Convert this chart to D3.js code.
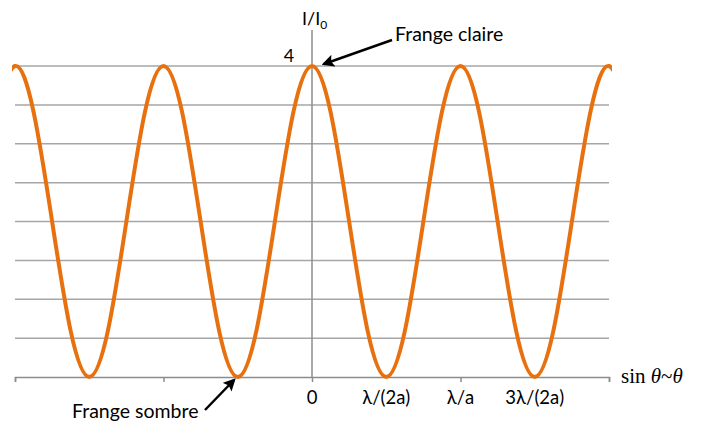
<!DOCTYPE html>
<html>
<head>
<meta charset="utf-8">
<script src="https://cdn.jsdelivr.net/npm/d3@7"></script>
<style>
  body { margin: 0; background: #fff; }
  text { font-family: Lato, "Open Sans", sans-serif; }
</style>
</head>
<body>
<div id="chart"></div>
<script>
// sin(theta) positions in units of lambda/a, sampled every 1/8
// (one extra sample past each end keeps the end peaks round; it is clipped)
const xs = [-2.125, -2, -1.875, -1.75, -1.625, -1.5, -1.375, -1.25, -1.125,
            -1, -0.875, -0.75, -0.625, -0.5, -0.375, -0.25, -0.125,
            0, 0.125, 0.25, 0.375, 0.5, 0.625, 0.75, 0.875,
            1, 1.125, 1.25, 1.375, 1.5, 1.625, 1.75, 1.875, 2, 2.125]
// I/I0
const intensity = [3.41, 4, 3.41, 2, 0.59, 0, 0.59, 2, 3.41,
                   4, 3.41, 2, 0.59, 0, 0.59, 2, 3.41,
                   4, 3.41, 2, 0.59, 0, 0.59, 2, 3.41,
                   4, 3.41, 2, 0.59, 0, 0.59, 2, 3.41, 4, 3.41]

const gridValues = [0.5, 1, 1.5, 2, 2.5, 3, 3.5, 4]
const axisTicks = [-2, -1, 0, 1, 2]
const tickLabels = [
  { x: 0, text: "0" },
  { x: 0.5, text: "λ/(2a)" },
  { x: 1, text: "λ/a" },
  { x: 1.5, text: "3λ/(2a)" }
]

const width = 701
const height = 425

const xScale = d3.scaleLinear().domain([-2, 2]).range([15, 609])
const yScale = d3.scaleLinear().domain([0, 4]).range([377, 66])

const svg = d3.select("#chart")
  .append("svg")
    .attr("width", width)
    .attr("height", height)

const defs = svg.append("defs")
defs.append("marker")
    .attr("id", "arrow")
    .attr("viewBox", "0 0 10 10")
    .attr("refX", 8)
    .attr("refY", 5)
    .attr("markerWidth", 5)
    .attr("markerHeight", 5)
    .attr("orient", "auto")
  .append("path")
    .attr("d", "M0,0 L10,5 L0,10 L2,5 Z")
    .attr("fill", "#000")

defs.append("clipPath")
    .attr("id", "plot-clip")
  .append("rect")
    .attr("x", xScale(-2) - 3)
    .attr("y", 0)
    .attr("width", xScale(2) - xScale(-2) + 6)
    .attr("height", height)

// gridlines
svg.append("g")
  .selectAll("line")
  .data(gridValues).enter()
  .append("line")
    .attr("x1", xScale(-2))
    .attr("x2", xScale(2))
    .attr("y1", d => yScale(d))
    .attr("y2", d => yScale(d))
    .attr("stroke", "#a6a6a6")
    .attr("stroke-width", 1.5)

// x axis
const xAxis = d3.axisBottom(xScale).tickValues(axisTicks).tickFormat("").tickSizeOuter(0).tickSize(5)
const gx = svg.append("g")
  .attr("transform", "translate(0," + yScale(0) + ")")
  .call(xAxis)
gx.select(".domain").attr("stroke", "#8c8c8c").attr("stroke-width", 1.5)
gx.selectAll(".tick line").attr("stroke", "#8c8c8c").attr("stroke-width", 1.5)

// y axis line
svg.append("line")
    .attr("x1", xScale(0))
    .attr("x2", xScale(0))
    .attr("y1", 30)
    .attr("y2", yScale(0))
    .attr("stroke", "#8c8c8c")
    .attr("stroke-width", 1.5)

// curve
const points = xs.map((x, i) => [x, intensity[i]])
const line = d3.line()
  .x(d => xScale(d[0]))
  .y(d => yScale(d[1]))
  .curve(d3.curveNatural)

svg.append("path")
    .datum(points)
    .attr("d", line)
    .attr("clip-path", "url(#plot-clip)")
    .attr("fill", "none")
    .attr("stroke", "#e8710f")
    .attr("stroke-width", 4)

// tick labels
svg.append("g")
  .selectAll("text")
  .data(tickLabels).enter()
  .append("text")
    .text(d => d.text)
    .attr("x", d => xScale(d.x))
    .attr("y", 404)
    .attr("text-anchor", "middle")
    .attr("font-size", 18.5)
    .attr("fill", "#000")

// y label "4"
svg.append("text")
    .text("4")
    .attr("x", 289)
    .attr("y", 62)
    .attr("text-anchor", "middle")
    .attr("font-size", 18)

// y axis title I/I0
const yTitle = svg.append("text")
    .attr("x", 302)
    .attr("y", 25)
    .attr("font-size", 18)
yTitle.append("tspan").text("I/I")
yTitle.append("tspan").text("0").attr("font-size", 12).attr("dy", 4)

// x axis title
const xTitle = svg.append("text")
    .attr("x", 621)
    .attr("y", 383)
    .attr("font-size", 21)
    .style("font-family", "'Liberation Serif', 'DejaVu Serif', serif")
xTitle.append("tspan").text("sin ")
xTitle.append("tspan").text("θ").attr("font-style", "italic")
xTitle.append("tspan").text("~")
xTitle.append("tspan").text("θ").attr("font-style", "italic")

// annotations
svg.append("line")
    .attr("x1", 392).attr("y1", 40)
    .attr("x2", 324).attr("y2", 64)
    .attr("stroke", "#000")
    .attr("stroke-width", 2.5)
    .attr("marker-end", "url(#arrow)")
svg.append("text")
    .text("Frange claire")
    .attr("x", 395)
    .attr("y", 41)
    .attr("font-size", 19.5)

svg.append("line")
    .attr("x1", 205).attr("y1", 410)
    .attr("x2", 234).attr("y2", 380)
    .attr("stroke", "#000")
    .attr("stroke-width", 2.5)
    .attr("marker-end", "url(#arrow)")
svg.append("text")
    .text("Frange sombre")
    .attr("x", 72)
    .attr("y", 418)
    .attr("font-size", 19.5)
</script>
</body>
</html>
